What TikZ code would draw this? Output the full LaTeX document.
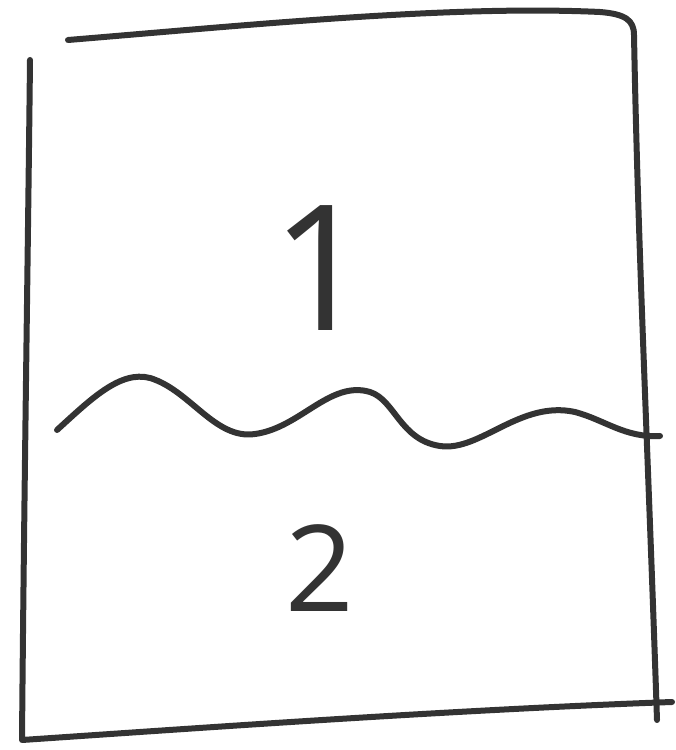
\documentclass[tikz,border=0pt]{standalone}
\usepackage{fontspec}
\newfontfamily\handfont{Open Sans}
\definecolor{ink}{HTML}{333333}
\begin{document}
\begin{tikzpicture}[x=1pt,y=1pt,
  pen/.style={draw=ink,line width=6pt,line cap=round,line join=round},
  digit/.style={text=ink,font=\handfont,inner sep=0pt}]
\useasboundingbox (0,0) rectangle (676,750);
\fill[white] (0,0) rectangle (676,750);
% top and right
\draw[pen] (68,710) .. controls (250,725) and (450,745) .. (600,738)
  .. controls (625,736) and (634,730) .. (634,715)
  .. controls (638,500) and (648,300) .. (657,30);
% left and bottom
\draw[pen] (30,690) .. controls (28,500) and (24,250) .. (22,10)
  .. controls (200,22) and (450,40) .. (672,48);
% wave
\draw[pen] (57,320) .. controls (90,350) and (120,380) .. (150,372)
  .. controls (190,360) and (215,310) .. (255,316)
  .. controls (300,322) and (330,370) .. (370,358)
  .. controls (395,350) and (400,310) .. (440,304)
  .. controls (480,298) and (520,350) .. (575,338)
  .. controls (605,330) and (625,312) .. (660,314);
\node[digit,font=\handfont\fontsize{175}{175}\selectfont] (one) at (322,482) {1};
\node[digit,font=\handfont\fontsize{120}{120}\selectfont] (two) at (320,182) {2};
\end{tikzpicture}
\end{document}
